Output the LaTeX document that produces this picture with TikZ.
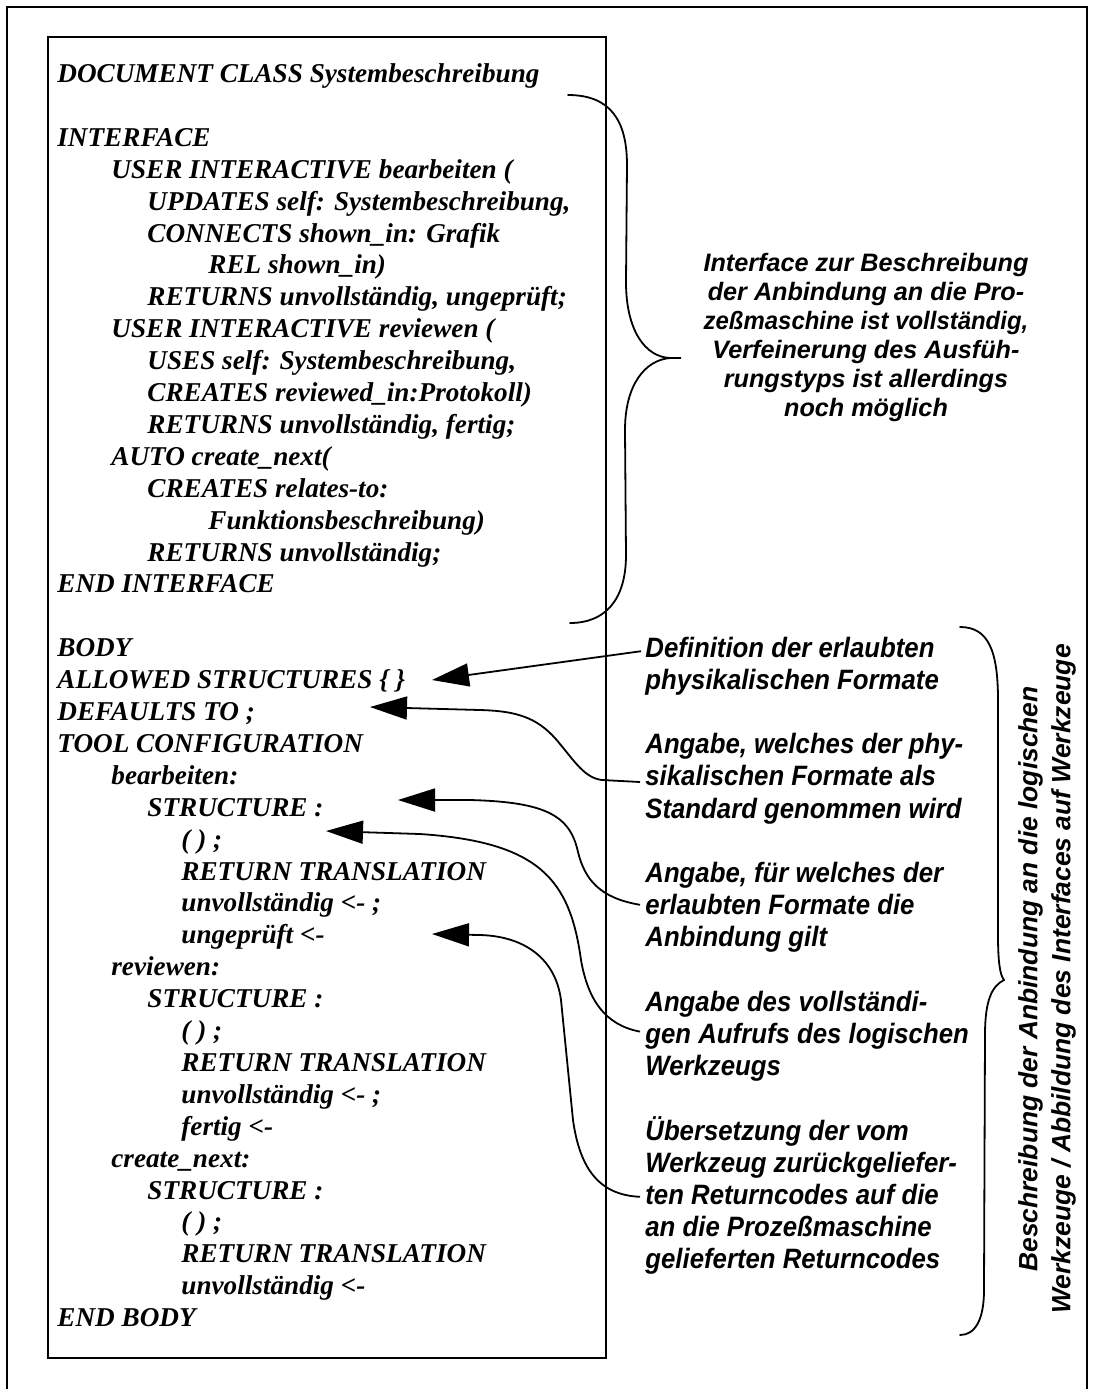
\documentclass[tikz,border=0pt]{standalone}
\usepackage{graphicx}
\usepackage{fontspec}
\setmainfont{Liberation Serif}
\newfontfamily\notefont{Liberation Sans}
\newfontfamily\narrowfont{Liberation Sans}[FakeStretch=0.92]
\usetikzlibrary{arrows.meta,calc}

% one line of the listing: index, left edge, text
\newcommand\codeline[3]{\node[codetext] (l#1) at (#2,{82.5+31.9*#1}) {#3};}

\begin{document}
\begin{tikzpicture}[x=0.5pt,y=-0.5pt,
  frame/.style={line width=1pt},
  codetext/.style={anchor=base west,inner sep=0pt,
    font=\fontsize{13.6}{15.9}\selectfont\bfseries\itshape},
  remark/.style={anchor=base west,inner sep=0pt,align=left,
    font=\narrowfont\fontsize{14}{16.1}\selectfont\bfseries\itshape},
  bracepath/.style={line width=0.9pt,line cap=round},
  pointer/.style={line width=0.9pt,-{Triangle[length=18.5pt,width=11.5pt]}}]

\useasboundingbox (0,0) rectangle (1093,1389);

% outer frame (open at the bottom edge of the sheet)
\draw[frame] (7,1389) -- (7,7) -- (1087,7) -- (1087,1389);

% listing box
\node[draw,frame,inner sep=0pt,minimum width=279pt,minimum height=660.5pt] (box) at (327,697.5) {};

% listing
\codeline{0}{57}{DOCUMENT CLASS Systembeschreibung}
\codeline{2}{57}{INTERFACE}
\codeline{3}{111}{USER INTERACTIVE bearbeiten (}
\codeline{4}{147}{UPDATES self: Systembeschreibung,}
\codeline{5}{147}{CONNECTS shown\_in: Grafik}
\codeline{6}{208}{REL shown\_in)}
\codeline{7}{147}{RETURNS unvollständig, ungeprüft;}
\codeline{8}{111}{USER INTERACTIVE reviewen (}
\codeline{9}{147}{USES self: Systembeschreibung,}
\codeline{10}{147}{CREATES reviewed\_in:Protokoll)}
\codeline{11}{147}{RETURNS unvollständig, fertig;}
\codeline{12}{111}{AUTO create\_next(}
\codeline{13}{147}{CREATES relates-to:}
\codeline{14}{208}{Funktionsbeschreibung)}
\codeline{15}{147}{RETURNS unvollständig;}
\codeline{16}{57}{END INTERFACE}
\codeline{18}{57}{BODY}
\codeline{19}{57}{ALLOWED STRUCTURES \{ \}}
\codeline{20}{57}{DEFAULTS TO ;}
\codeline{21}{57}{TOOL CONFIGURATION}
\codeline{22}{111}{bearbeiten:}
\codeline{23}{147}{STRUCTURE :}
\codeline{24}{181}{( ) ;}
\codeline{25}{181}{RETURN TRANSLATION}
\codeline{26}{181}{unvollständig <- ;}
\codeline{27}{181}{ungeprüft <-}
\codeline{28}{111}{reviewen:}
\codeline{29}{147}{STRUCTURE :}
\codeline{30}{181}{( ) ;}
\codeline{31}{181}{RETURN TRANSLATION}
\codeline{32}{181}{unvollständig <- ;}
\codeline{33}{181}{fertig <-}
\codeline{34}{111}{create\_next:}
\codeline{35}{147}{STRUCTURE :}
\codeline{36}{181}{( ) ;}
\codeline{37}{181}{RETURN TRANSLATION}
\codeline{38}{181}{unvollständig <-}
\codeline{39}{57}{END BODY}

% brace over the interface part and its remark
\draw[bracepath] (568,95) .. controls (610,95) and (627,120) .. (627,165)
  -- (626,282) .. controls (626,330) and (645,357) .. (670,358) -- (681,358) -- (670,358)
  .. controls (645,360) and (625,385) .. (625,430)
  -- (626,555) .. controls (626,600) and (605,623) .. (570,623);
\node[inner sep=0pt,align=center,
  font=\notefont\fontsize{12.6}{14.5}\selectfont\bfseries\itshape] (iface) at (866,337)
  {Interface zur Beschreibung\\der Anbindung an die Pro-\\\scalebox{0.95}[1]{zeßmaschine ist vollständig,}\\
   Verfeinerung des Ausfüh-\\rungstyps ist allerdings\\noch möglich};

% remarks on the body part (each placed by the baseline of its last line)
\node[remark] (r1) at (645,{657+32.2*1})  {Definition der erlaubten\\physikalischen Formate};
\node[remark] (r2) at (645,{657+32.2*5})  {Angabe, welches der phy-\\sikalischen Formate als\\Standard genommen wird};
\node[remark] (r3) at (645,{657+32.2*9})  {Angabe, für welches der\\erlaubten Formate die\\Anbindung gilt};
\node[remark] (r4) at (645,{657+32.2*13}) {Angabe des vollständi-\\gen Aufrufs des logischen\\Werkzeugs};
\node[remark] (r5) at (645,{657+32.2*19}) {Übersetzung der vom\\Werkzeug zurückgeliefer-\\ten Returncodes auf die\\an die Prozeßmaschine\\gelieferten Returncodes};

% arrow targets in the listing
\coordinate (t1) at (432,680);
\coordinate (t2) at (370,707);
\coordinate (t3) at (398,800);
\coordinate (t4) at (326,831);
\coordinate (t5) at (432,934);

\draw[pointer] ([shift={(-4,-38)}]r1.base west) -- (t1);
\draw[pointer] ([shift={(-5,-36)}]r2.base west) -- (602,780)
  .. controls (585,778) and (575,762) .. (560,744)
  .. controls (540,719) and (520,711) .. (480,710) -- (t2);
\draw[pointer] ([shift={(-5,-42)}]r3.base west)
  .. controls (600,898) and (585,880) .. (578,852)
  .. controls (570,815) and (545,802) .. (470,800) -- (t3);
\draw[pointer] ([shift={(-5,-44)}]r4.base west)
  .. controls (605,1025) and (588,1000) .. (581,960)
  .. controls (570,880) and (540,842) .. (420,834) -- (t4);
\draw[pointer] ([shift={(-5,-72)}]r5.base west)
  .. controls (600,1195) and (580,1170) .. (573,1120)
  -- (561,1000) .. controls (555,955) and (520,936) .. (480,935) -- (t5);

% brace over the body remarks
\draw[bracepath] (960,627) .. controls (988,627) and (998,650) .. (998,700)
  -- (998,935) .. controls (998,962) and (1000,975) .. (1004,980)
  .. controls (992,986) and (985,1000) .. (985,1035)
  -- (984,1290) .. controls (984,1320) and (975,1335) .. (960,1335);
\node[inner sep=0pt,align=center,rotate=90,
  font=\notefont\fontsize{13.2}{16.5}\selectfont\bfseries\itshape] (side) at (1047,979)
  {Beschreibung der Anbindung an die logischen\\Werkzeuge / Abbildung des Interfaces auf Werkzeuge};

\end{tikzpicture}
\end{document}
